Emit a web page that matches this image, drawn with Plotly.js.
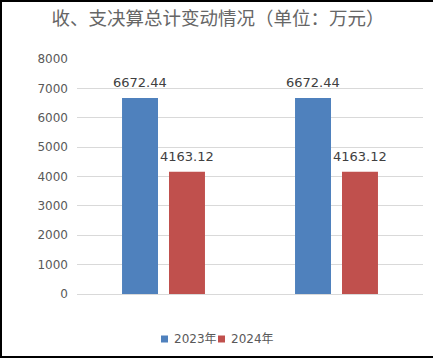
<!DOCTYPE html>
<html>
<head>
<meta charset="utf-8">
<script src="https://cdn.plot.ly/plotly-3.0.1.min.js"></script>
<style>
html,body{margin:0;padding:0;background:#fff;}
#wrap{position:relative;width:433px;height:358px;}
#chart{width:433px;height:358px;}
#frame{position:absolute;left:0;top:0;width:440px;height:358px;border-left:2px solid #000;border-top:2px solid #000;border-bottom:2px solid #000;box-sizing:border-box;pointer-events:none;}
</style>
</head>
<body>
<div id="wrap"><div id="chart"></div><div id="frame"></div></div>
<script>
var categories = ["收入决算总计", "支出决算总计"];
var seriesNames = ["2023年", "2024年"];
var values2023 = [6672.44, 6672.44];
var values2024 = [4163.12, 4163.12];
var colors = ["#4F81BD", "#C0504D"];
var yTicks = [0, 1000, 2000, 3000, 4000, 5000, 6000, 7000, 8000];

var labelFont = {family: "DejaVu Sans, sans-serif", size: 13, color: "#404040"};
var series = [values2023, values2024];
var data = series.map(function(vals, i){
  return {type: "bar", name: seriesNames[i], x: categories, y: vals,
          marker: {color: colors[i]}, hoverinfo: "none", showlegend: false};
});

var annotations = [];
var shifts = [-23.5, 23.5];
series.forEach(function(vals, i){
  vals.forEach(function(v, j){
    annotations.push({x: categories[j], y: v, xref: "x", yref: "y", xshift: shifts[i], yshift: 6,
      yanchor: "bottom", xanchor: "center", showarrow: false, text: v.toFixed(2), font: labelFont});
  });
});
// legend
var legendX = [168, 225];
var shapes = [];
seriesNames.forEach(function(n, i){
  shapes.push({type: "rect", xref: "paper", yref: "paper",
    x0: (legendX[i] - 7 - 77) / 346, x1: (legendX[i] - 77) / 346,
    y0: (294 - 342.5) / 235, y1: (294 - 335.5) / 235,
    fillcolor: colors[i], line: {width: 0}});
  annotations.push({xref: "paper", yref: "paper", x: (legendX[i] + 4 - 77) / 346, y: (294 - 339) / 235,
    xanchor: "left", yanchor: "middle", showarrow: false, text: n,
    font: {family: "DejaVu Sans, Noto Sans CJK SC, sans-serif", size: 12, color: "#595959"}});
});

var layout = {
  width: 433, height: 358,
  margin: {l: 77, r: 10, t: 59, b: 64},
  paper_bgcolor: "#fff", plot_bgcolor: "#fff",
  title: {text: "收、支决算总计变动情况（单位：万元）", x: 218 / 433, xref: "container", xanchor: "center", y: 1 - 19 / 358, yref: "container", yanchor: "middle",
          font: {family: "Noto Sans CJK SC, sans-serif", size: 18.5, color: "#666666"}},
  barmode: "group", bargap: 0.457, bargroupgap: 0.234,
  xaxis: {showticklabels: false, showgrid: false, zeroline: false, showline: false, ticks: ""},
  yaxis: {range: [0, 8000], tickvals: yTicks, ticktext: yTicks.map(String), showgrid: true, gridcolor: "#D9D9D9", gridwidth: 1,
          zeroline: true, zerolinecolor: "#D9D9D9", zerolinewidth: 1, showline: false, ticks: "", ticklabelstandoff: 8,
          tickfont: {family: "DejaVu Sans, sans-serif", size: 12, color: "#595959"}},
  showlegend: false,
  annotations: annotations,
  shapes: shapes,
  font: {family: "DejaVu Sans, sans-serif"}
};
Plotly.newPlot("chart", data, layout, {displayModeBar: false, staticPlot: true});
</script>
</body>
</html>
